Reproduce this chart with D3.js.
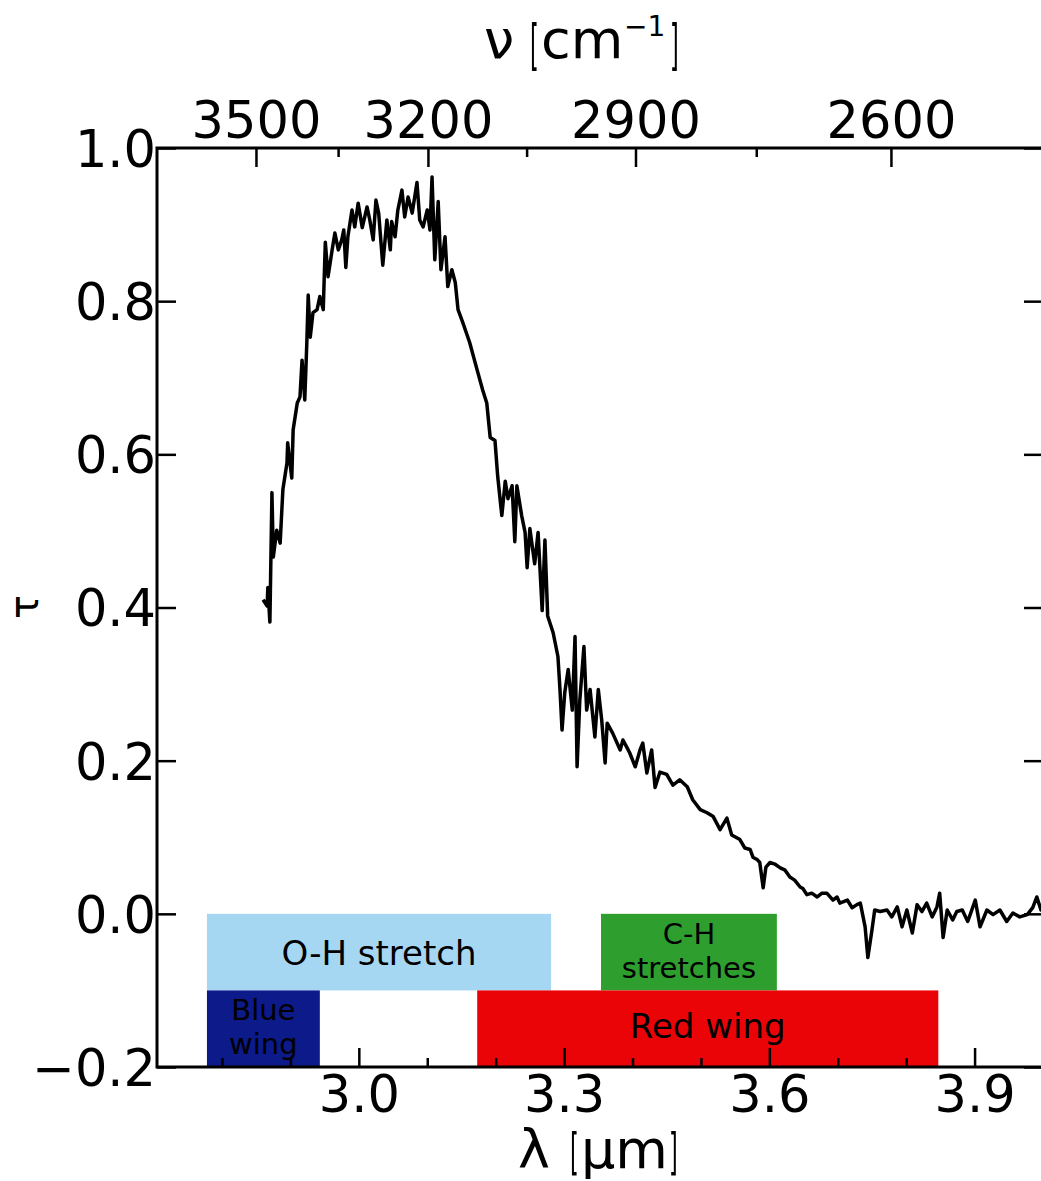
<!DOCTYPE html>
<html><head><meta charset="utf-8">
<script src="https://cdn.jsdelivr.net/npm/d3@7"></script>
<style>html,body{margin:0;padding:0;background:#fff;} text{font-family:"DejaVu Sans",sans-serif;}</style>
</head><body>
<svg id="chart" width="1041" height="1181"></svg>
<script>
// ---- data ----
const wavelength = [2.860,2.866,2.867,2.870,2.873,2.875,2.880,2.885,2.889,2.895,
2.896,2.902,2.904,2.910,2.914,2.917,2.921,2.924,2.926,2.929,
2.933,2.939,2.943,2.948,2.951,2.955,2.961,2.965,2.970,2.975,
2.978,2.981,2.984,2.990,2.994,2.999,3.005,3.012,3.016,3.021,
3.025,3.029,3.035,3.041,3.046,3.048,3.053,3.057,3.063,3.067,
3.072,3.078,3.085,3.089,3.094,3.100,3.104,3.107,3.111,3.116,
3.120,3.126,3.130,3.136,3.141,3.145,3.152,3.162,3.173,3.181,
3.187,3.192,3.199,3.203,3.209,3.214,3.218,3.224,3.228,3.231,
3.238,3.243,3.246,3.250,3.257,3.262,3.268,3.272,3.276,3.284,
3.291,3.294,3.297,3.301,3.306,3.312,3.316,3.319,3.323,3.329,
3.333,3.338,3.345,3.350,3.355,3.360,3.363,3.371,3.382,3.386,
3.392,3.396,3.404,3.411,3.415,3.421,3.428,3.433,3.440,3.450,
3.459,3.469,3.480,3.488,3.499,3.509,3.518,3.528,3.538,3.545,
3.557,3.564,3.572,3.576,3.582,3.586,3.591,3.595,3.601,3.608,
3.616,3.623,3.630,3.637,3.645,3.649,3.655,3.662,3.670,3.677,
3.684,3.693,3.699,3.703,3.714,3.721,3.728,3.733,3.740,3.744,
3.750,3.754,3.762,3.772,3.779,3.787,3.794,3.801,3.809,3.816,
3.823,3.830,3.838,3.845,3.849,3.854,3.860,3.868,3.874,3.882,
3.890,3.901,3.908,3.918,3.927,3.937,3.947,3.956,3.966,3.977,
3.985,3.991,3.997,4.005];
const tau = [0.410,0.402,0.426,0.381,0.550,0.466,0.501,0.484,0.554,0.589,
0.615,0.569,0.632,0.667,0.675,0.723,0.671,0.746,0.808,0.753,
0.785,0.789,0.806,0.789,0.877,0.832,0.867,0.889,0.867,0.880,
0.893,0.844,0.884,0.919,0.897,0.928,0.896,0.923,0.906,0.880,
0.932,0.915,0.847,0.906,0.867,0.904,0.884,0.919,0.945,0.910,
0.936,0.915,0.955,0.906,0.897,0.919,0.893,0.962,0.854,0.930,
0.841,0.884,0.819,0.841,0.824,0.789,0.772,0.746,0.710,0.684,
0.667,0.622,0.618,0.571,0.520,0.565,0.542,0.559,0.486,0.559,
0.520,0.498,0.452,0.503,0.457,0.498,0.396,0.488,0.389,0.367,
0.336,0.293,0.240,0.289,0.319,0.266,0.362,0.192,0.279,0.349,
0.266,0.293,0.231,0.293,0.253,0.197,0.249,0.236,0.214,0.227,
0.217,0.210,0.192,0.214,0.223,0.184,0.214,0.165,0.185,0.182,
0.168,0.175,0.166,0.149,0.136,0.132,0.127,0.110,0.125,0.103,
0.097,0.086,0.084,0.074,0.071,0.067,0.034,0.061,0.067,0.065,
0.060,0.057,0.048,0.044,0.035,0.033,0.025,0.027,0.022,0.027,
0.027,0.018,0.022,0.014,0.018,0.008,0.012,0.014,-0.017,-0.057,
-0.021,0.005,0.003,0.005,-0.004,0.009,-0.017,0.005,-0.025,0.012,
0.003,0.014,-0.004,0.009,0.027,-0.031,0.005,-0.008,0.003,0.005,
-0.010,0.018,-0.017,0.005,-0.001,0.005,-0.010,0.001,-0.004,-0.001,
0.008,0.022,0.005,0.006];

const bottomMajorTicks = [3.0, 3.3, 3.6, 3.9];
const bottomMinorTicks = [2.8, 2.9, 3.1, 3.2, 3.4, 3.5, 3.7, 3.8];
const topMajorTicks = [3500, 3200, 2900, 2600];   // wavenumber, cm^-1
const topMinorTicks = [3350, 3050, 2750];
const yTicks = [-0.2, 0.0, 0.2, 0.4, 0.6, 0.8, 1.0];

const bandLabels = [["O-H stretch"], ["Blue", "wing"], ["C-H", "stretches"], ["Red wing"]];
const bandStart  = [2.778, 2.778, 3.354, 3.173];
const bandEnd    = [3.281, 2.943, 3.611, 3.847];
const bandHigh   = [0.0, -0.1, 0.0, -0.1];
const bandLow    = [-0.1, -0.2, -0.1, -0.2];
const bandColors = ["#a6d7f2", "#0c1a8a", "#2e9e2e", "#ea0408"];
const bandFontSize = [34, 29, 29, 34];

// ---- layout ----
const L = 157, R = 1043, T = 148, B = 1067;
const svg = d3.select("#chart");
const defs = svg.append("defs");
defs.append("filter").attr("id", "gray")
  .append("feColorMatrix").attr("type", "saturate").attr("values", 0);
svg.append("rect").attr("width", 1041).attr("height", 1181).attr("fill", "#fff");

const x = d3.scaleLinear().domain([2.705, 4.0]).range([L, R]);
const y = d3.scaleLinear().domain([-0.2, 1.0]).range([B, T]);
// top axis: wavenumber, placed by wavelength = 1e4 / nu
const xTop = d3.scaleLinear().domain([2.703, 4.083]).range([L, R]);

defs.append("clipPath").attr("id", "plotclip")
  .append("rect").attr("x", L).attr("y", T).attr("width", R - L).attr("height", B - T);

// bands
const bands = svg.append("g");
bandLabels.forEach((lab, i) => {
  const x0 = x(bandStart[i]), x1 = x(bandEnd[i]);
  const y0 = y(bandHigh[i]), y1 = y(bandLow[i]);
  bands.append("rect").attr("x", x0).attr("y", y0).attr("width", x1 - x0).attr("height", y1 - y0)
    .attr("fill", bandColors[i]);
  const cx = (x0 + x1) / 2, cy = (y0 + y1) / 2, fs = bandFontSize[i];
  const t = bands.append("text").attr("text-anchor", "middle").attr("font-size", fs).attr("fill", "#000");
  if (lab.length === 1) {
    t.attr("x", cx).attr("y", cy + (lab[0].match(/[gpqy]/) ? 0.26 : 0.38) * fs).text(lab[0]);
  } else {
    lab.forEach((s, k) => {
      t.append("tspan").attr("x", cx).attr("y", cy - 0.29 * fs + k * 1.17 * fs).text(s);
    });
  }
});

const tickStyle = g => {
  g.select(".domain").remove();
  g.selectAll(".tick line").attr("stroke", "#000").attr("stroke-width", 2.5);
  g.selectAll(".tick text").attr("fill", "#000").attr("font-family", "DejaVu Sans").attr("font-size", 51);
};

// bottom axis
svg.append("g").attr("transform", `translate(0,${B})`)
  .call(d3.axisBottom(x).tickValues(bottomMajorTicks).tickSize(-19).tickPadding(9).tickFormat(d3.format(".1f")))
  .call(tickStyle);
svg.append("g").attr("transform", `translate(0,${B})`)
  .call(d3.axisBottom(x).tickValues(bottomMinorTicks).tickSize(-9).tickFormat(""))
  .call(tickStyle);
// top axis (wavenumber)
svg.append("g").attr("transform", `translate(0,${T})`)
  .call(d3.axisTop(xTop).tickValues(topMajorTicks.map(n => 1e4 / n)).tickSize(-19).tickPadding(10)
    .tickFormat(d => d3.format("d")(Math.round(1e4 / d))))
  .call(tickStyle);
svg.append("g").attr("transform", `translate(0,${T})`)
  .call(d3.axisTop(xTop).tickValues(topMinorTicks.map(n => 1e4 / n)).tickSize(-9).tickFormat(""))
  .call(tickStyle);
// left axis
svg.append("g").attr("transform", `translate(${L},0)`)
  .call(d3.axisLeft(y).tickValues(yTicks).tickSize(-19).tickPadding(1).tickFormat(d3.format(".1f")))
  .call(tickStyle)
  .call(g => g.selectAll(".tick text").attr("dy", "0.36em"));
// right axis
svg.append("g").attr("transform", `translate(${R},0)`)
  .call(d3.axisRight(y).tickValues(yTicks).tickSize(-19).tickFormat(""))
  .call(tickStyle);

// spectrum
const pts = wavelength.map((w, i) => [w, tau[i]]);
svg.append("path").datum(pts).attr("clip-path", "url(#plotclip)")
  .attr("d", d3.line().x(d => x(d[0])).y(d => y(d[1])))
  .attr("fill", "none").attr("stroke", "#000").attr("stroke-width", 3.5).attr("stroke-linejoin", "round");

// frame
svg.append("rect").attr("x", L).attr("y", T).attr("width", R - L).attr("height", B - T)
  .attr("fill", "none").attr("stroke", "#000").attr("stroke-width", 3);

// axis labels
const lab = svg.append("g").attr("fill", "#000").attr("font-size", 54);
function bracket(ch, bx, base, fs, sy) {
  lab.append("text").attr("transform", `translate(${bx},${base}) scale(0.45,${sy})`)
    .attr("font-size", fs).attr("fill", "#000").attr("filter", "url(#gray)").text(ch);
}
// top: ν [cm^-1]
lab.append("text").attr("x", 484).attr("y", 58).text("ν");
bracket("[", 530, 64, 50, 1.1);
lab.append("text").attr("x", 541).attr("y", 58).text("cm");
lab.append("text").attr("x", 624).attr("y", 36).attr("font-size", 28).text("−1");
bracket("]", 670, 64, 50, 1.1);
// bottom: λ [µm]
lab.append("text").attr("x", 518).attr("y", 1168).text("λ");
bracket("[", 570, 1169, 50, 1.0);
lab.append("text").attr("x", 581).attr("y", 1168).text("µm");
bracket("]", 669, 1169, 50, 1.0);
// left: τ
lab.append("text").attr("transform", "translate(37.5,607) rotate(-90)").attr("text-anchor", "middle")
  .attr("font-size", 40).text("τ");
</script>
</body></html>
